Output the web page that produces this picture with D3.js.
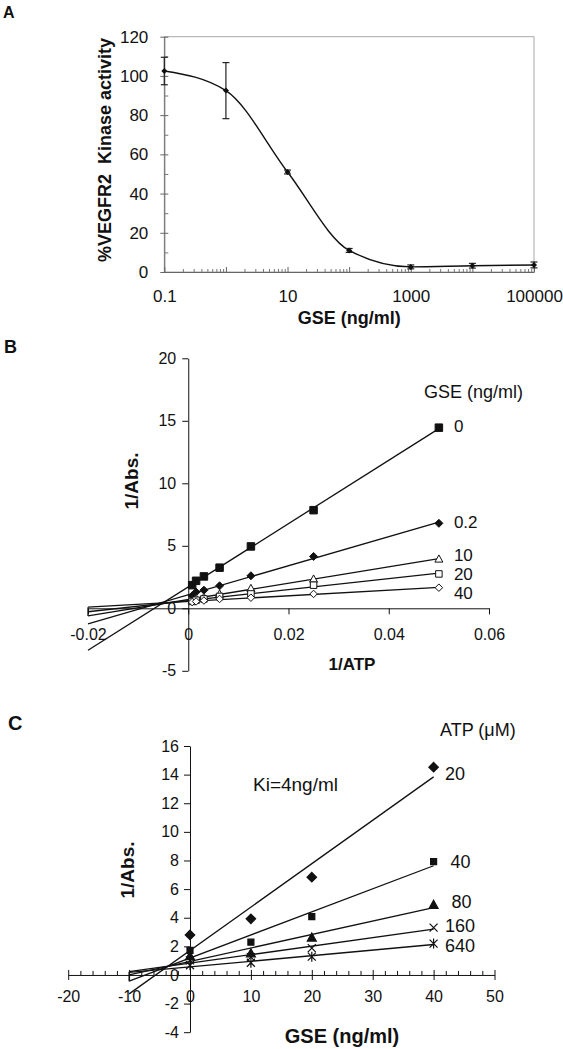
<!DOCTYPE html>
<html><head><meta charset="utf-8">
<script src="https://cdn.jsdelivr.net/npm/d3@7"></script>
<style>body{margin:0;background:#fff}svg{display:block}</style>
</head><body><svg id="c" width="563" height="1049"></svg>
<script>
// ---------- DATA ----------
// Panel A: dose response
const aDose = [0.1, 1, 10, 100, 1000, 10000, 100000];
const aActivity = [102.5, 92.5, 51, 11, 2.6, 3.2, 3.6];
const aError = [7, 14.3, 1, 1, 1, 1.2, 1.5];
const aXTickLabels = [0.1, 10, 1000, 100000];
const aYTicks = [0, 20, 40, 60, 80, 100, 120];

// Panel B: Lineweaver-Burk (1/Abs vs 1/ATP)
const bInvATP = [1/1280, 1/640, 1/320, 1/160, 1/80, 1/40, 1/20];
const bGSE = ["0", "0.2", "10", "20", "40"];
const bGSE0 = [1.85, 2.2, 2.55, 3.25, 4.95, 7.85, 14.45];
const bGSE02 = [1.0, 1.3, 1.45, 1.8, 2.6, 4.15, 6.8];
const bGSE10 = [0.65, 0.8, 0.9, 1.15, 1.6, 2.35, 3.95];
const bGSE20 = [0.55, 0.65, 0.75, 0.95, 1.15, 1.85, 2.75];
const bGSE40 = [0.5, 0.55, 0.62, 0.75, 0.85, 1.15, 1.65];
const bXTicks = [-0.02, 0, 0.02, 0.04, 0.06];
const bYTicks = [-5, 0, 5, 10, 15, 20];

// Panel C: Dixon plot (1/Abs vs GSE)
const cGSE = [0, 10, 20, 40];
const cATP = ["20", "40", "80", "160", "640"];
const cATP20 = [2.8, 3.92, 6.83, 14.52];
const cATP40 = [1.72, 2.29, 4.08, 7.92];
const cATP80 = [1.33, 1.52, 2.62, 4.9];
const cATP160 = [1.02, 1.25, 1.87, 3.31];
const cATP640 = [0.68, 0.85, 1.28, 2.19];
const cXTicks = [-20, -10, 0, 10, 20, 30, 40, 50];
const cYTicks = [-4, -2, 0, 2, 4, 6, 8, 10, 12, 14, 16];

// ---------- SETUP ----------
const FONT = "'Liberation Sans', Arial, Helvetica, sans-serif";
const svg = d3.select("#c");
svg.append("rect").attr("width", 563).attr("height", 1049).attr("fill", "#fff");

const shapes = {
  square: s => { const h = s / 2; return `M${-h},${-h}h${s}v${s}h${-s}Z`; },
  diamond: s => { const h = s / 2; return `M0,${-h}L${h},0L0,${h}L${-h},0Z`; },
  triangle: s => { const h = s / 2; return `M0,${-h}L${h},${h * 0.8}L${-h},${h * 0.8}Z`; },
  cross: s => { const h = s / 2; return `M${-h},${-h}L${h},${h}M${-h},${h}L${h},${-h}`; },
  star: s => { const h = s / 2; return `M${-h},${-h}L${h},${h}M${-h},${h}L${h},${-h}M0,${-h - 1}L0,${h + 1}`; }
};

function regress(xs, ys) {
  const mx = d3.mean(xs), my = d3.mean(ys);
  let sxy = 0, sxx = 0;
  xs.forEach((x, i) => { sxy += (x - mx) * (ys[i] - my); sxx += (x - mx) ** 2; });
  const m = sxy / sxx;
  return { m, b: my - m * mx };
}
function txt(g, x, y, s, size, opts = {}) {
  return g.append("text").attr("x", x).attr("y", y).text(s)
    .attr("font-family", FONT).attr("font-size", size)
    .attr("font-weight", opts.bold ? "bold" : "normal")
    .attr("text-anchor", opts.anchor || "start").attr("fill", "#111")
    .style("white-space", "pre");
}
function styleAxis(ax, size, color) {
  ax.selectAll("text").attr("font-family", FONT).attr("font-size", size).attr("fill", "#111");
  ax.selectAll("line").attr("stroke", color);
  ax.select(".domain").attr("stroke", color);
}

// ---------- PANEL A ----------
{
  const g = svg.append("g");
  const xA = d3.scaleLog().domain([0.1, 100000]).range([164.3, 534]);
  const yA = d3.scaleLinear().domain([0, 120]).range([272, 36.7]);
  const [x0, x1] = xA.range(), [y0, y1] = yA.range();
  g.append("rect").attr("x", x0).attr("y", y1).attr("width", x1 - x0).attr("height", y0 - y1)
    .attr("fill", "none").attr("stroke", "#a8a8a8").attr("stroke-width", 1);

  // y axis
  const ya = g.append("g").attr("transform", `translate(${x0},0)`)
    .call(d3.axisLeft(yA).tickValues(aYTicks).tickSize(4).tickSizeOuter(0).tickPadding(12).tickFormat(d => String(d)));
  ya.selectAll(".tick line").attr("x1", 4);
  styleAxis(ya, 17, "#666");
  const yMinor = aYTicks.slice(0, -1).map(v => v + 10);
  const yam = g.append("g").attr("transform", `translate(${x0},0)`)
    .call(d3.axisLeft(yA).tickValues(yMinor).tickSize(-4).tickFormat(""));
  yam.select(".domain").remove();
  yam.selectAll("line").attr("stroke", "#777");

  // x axis
  const decades = d3.range(-1, 6).map(e => Math.pow(10, e));
  const xa = g.append("g").attr("transform", `translate(0,${y0})`)
    .call(d3.axisBottom(xA).tickValues(decades).tickSize(-5).tickSizeOuter(0).tickPadding(17.5)
      .tickFormat(d => aXTickLabels.some(v => Math.abs(v - d) / v < 1e-9) ? String(d) : ""));
  styleAxis(xa, 17, "#666");
  const minors = [];
  decades.slice(0, -1).forEach(dd => { for (let k = 2; k <= 9; k++) minors.push(dd * k); });
  const xam = g.append("g").attr("transform", `translate(0,${y0})`)
    .call(d3.axisBottom(xA).tickValues(minors).tickSize(-3).tickFormat(""));
  xam.select(".domain").remove();
  xam.selectAll("line").attr("stroke", "#777");

  // curve
  const pts = aDose.map((d, i) => ({ x: d, y: aActivity[i], e: aError[i] }));
  g.append("path").datum(pts)
    .attr("d", d3.line().x(d => xA(d.x)).y(d => yA(d.y)).curve(d3.curveMonotoneX))
    .attr("fill", "none").attr("stroke", "#111").attr("stroke-width", 1.4);
  // error bars
  const eb = g.selectAll(".eb").data(pts).enter().append("g");
  eb.append("line").attr("x1", d => xA(d.x)).attr("x2", d => xA(d.x))
    .attr("y1", d => yA(d.y - d.e)).attr("y2", d => yA(d.y + d.e)).attr("stroke", "#222").attr("stroke-width", 1.2);
  [-1, 1].forEach(sg => {
    eb.append("line").attr("x1", d => xA(d.x) - 3.5).attr("x2", d => xA(d.x) + 3.5)
      .attr("y1", d => yA(d.y + sg * d.e)).attr("y2", d => yA(d.y + sg * d.e)).attr("stroke", "#222").attr("stroke-width", 1.2);
  });
  g.selectAll(".pt").data(pts).enter().append("path")
    .attr("transform", d => `translate(${xA(d.x)},${yA(d.y)})`)
    .attr("d", shapes.diamond(6)).attr("fill", "#111");

  txt(g, (x0 + x1) / 2, 324, "GSE (ng/ml)", 18, { bold: true, anchor: "middle" });
  txt(g, 0, 0, "%VEGFR2  Kinase activity", 18, { bold: true, anchor: "middle" })
    .attr("transform", "translate(111,150) rotate(-90)");
  txt(g, 3, 18, "A", 16, { bold: true });
}

// ---------- PANEL B ----------
{
  const g = svg.append("g");
  const xB = d3.scaleLinear().domain([-0.02, 0.06]).range([88, 489]);
  const yB = d3.scaleLinear().domain([-5, 20]).range([670.8, 358.3]);
  const ya = g.append("g").attr("transform", `translate(${xB(0)},0)`)
    .call(d3.axisLeft(yB).tickValues(bYTicks).tickSize(6).tickSizeOuter(0).tickPadding(6).tickFormat(d => String(d)));
  styleAxis(ya, 16, "#111");
  const xa = g.append("g").attr("transform", `translate(0,${yB(0)})`)
    .call(d3.axisBottom(xB).tickValues(bXTicks).tickSize(6).tickSizeOuter(0).tickPadding(14.5)
      .tickFormat(d => d === 0 ? "0" : d.toFixed(2)));
  styleAxis(xa, 16, "#111");

  const series = [bGSE0, bGSE02, bGSE10, bGSE20, bGSE40];
  const markers = [
    { p: shapes.square(7.5), fill: "#111" },
    { p: shapes.diamond(8), fill: "#111" },
    { p: shapes.triangle(8), fill: "#fff" },
    { p: shapes.square(6.5), fill: "#fff" },
    { p: shapes.diamond(7.5), fill: "#fff" }
  ];
  const labelDy = [4, 5, 2, 6, 11];
  const xStart = bXTicks[0], xEnd = d3.max(bInvATP);
  const leftEnds = [];
  series.forEach((ys) => {
    const r = regress(bInvATP, ys);
    leftEnds.push(yB(r.m * xStart + r.b));
    g.append("line").attr("x1", xB(xStart)).attr("y1", yB(r.m * xStart + r.b))
      .attr("x2", xB(xEnd)).attr("y2", yB(r.m * xEnd + r.b))
      .attr("stroke", "#111").attr("stroke-width", 1.3);
  });
  g.append("line").attr("x1", xB(xStart)).attr("x2", xB(xStart))
    .attr("y1", d3.min(leftEnds.slice(2))).attr("y2", d3.max(leftEnds.slice(2)))
    .attr("stroke", "#111").attr("stroke-width", 1.3);
  series.forEach((ys, si) => {
    g.selectAll(null).data(ys).enter().append("path")
      .attr("transform", (d, i) => `translate(${xB(bInvATP[i])},${yB(d)})`)
      .attr("d", markers[si].p).attr("fill", markers[si].fill).attr("stroke", "#111").attr("stroke-width", 1);
    txt(g, xB(xEnd) + 15, yB(ys[ys.length - 1]) + labelDy[si], bGSE[si], 17);
  });
  txt(g, 424, 398, "GSE (ng/ml)", 18);
  txt(g, 352, 670, "1/ATP", 17, { bold: true, anchor: "middle" });
  txt(g, 0, 0, "1/Abs.", 19, { bold: true, anchor: "middle" })
    .attr("transform", "translate(138,481) rotate(-90)");
  txt(g, 4, 353, "B", 18, { bold: true });
}

// ---------- PANEL C ----------
{
  const g = svg.append("g");
  const xC = d3.scaleLinear().domain([-20, 50]).range([68.2, 494.5]);
  const yC = d3.scaleLinear().domain([-4, 16]).range([1032.2, 746]);
  const ya = g.append("g").attr("transform", `translate(${xC(0)},0)`)
    .call(d3.axisLeft(yC).tickValues(cYTicks).tickSize(6).tickSizeOuter(0).tickPadding(5).tickFormat(d => String(d)));
  styleAxis(ya, 16, "#111");
  const xa = g.append("g").attr("transform", `translate(0,${yC(0)})`)
    .call(d3.axisBottom(xC).tickValues(cXTicks).tickSize(5).tickSizeOuter(0).tickPadding(11).tickFormat(d => String(d)));
  xa.selectAll(".tick line").attr("y1", -5);
  styleAxis(xa, 16, "#111");
  const minorC = d3.range(-20, 50, 2).filter(v => v % 10 !== 0);
  const xam = g.append("g").attr("transform", `translate(0,${yC(0)})`)
    .call(d3.axisBottom(xC).tickValues(minorC).tickSize(-4).tickFormat(""));
  xam.select(".domain").remove();
  xam.selectAll("line").attr("stroke", "#111");

  const series = [cATP20, cATP40, cATP80, cATP160, cATP640];
  const markers = [
    { p: shapes.diamond(9.5), fill: "#111" },
    { p: shapes.square(6), fill: "#111" },
    { p: shapes.triangle(9), fill: "#111" },
    { p: shapes.cross(8), fill: "none" },
    { p: shapes.star(8), fill: "none" }
  ];
  const labelDx = [11.5, 17, 18, 11.5, 11.5];
  const labelDy = [12.7, 6.6, 3.4, 4, 8];
  const xStart = -10, xEnd = d3.max(cGSE);
  const leftEnds = [];
  series.forEach((ys) => {
    const r = regress(cGSE, ys);
    leftEnds.push(yC(r.m * xStart + r.b));
    g.append("line").attr("x1", xC(xStart)).attr("y1", yC(r.m * xStart + r.b))
      .attr("x2", xC(xEnd)).attr("y2", yC(r.m * xEnd + r.b))
      .attr("stroke", "#111").attr("stroke-width", 1.3);
  });
  g.append("line").attr("x1", xC(xStart)).attr("x2", xC(xStart))
    .attr("y1", d3.min(leftEnds.slice(1))).attr("y2", d3.max(leftEnds.slice(1)))
    .attr("stroke", "#111").attr("stroke-width", 1.3);
  series.forEach((ys, si) => {
    g.selectAll(null).data(ys).enter().append("path")
      .attr("transform", (d, i) => `translate(${xC(cGSE[i])},${yC(d)})`)
      .attr("d", markers[si].p).attr("fill", markers[si].fill).attr("stroke", "#111").attr("stroke-width", 1.2);
    txt(g, xC(xEnd) + labelDx[si], yC(ys[ys.length - 1]) + labelDy[si], cATP[si], 18);
  });
  txt(g, 440, 736, "ATP (\u03bcM)", 18);
  txt(g, 253, 791, "Ki=4ng/ml", 19);
  txt(g, 342, 1043, "GSE (ng/ml)", 20, { bold: true, anchor: "middle" });
  txt(g, 0, 0, "1/Abs.", 19, { bold: true, anchor: "middle" })
    .attr("transform", "translate(134,870) rotate(-90)");
  txt(g, 8, 730, "C", 20, { bold: true });
}
</script></body></html>
